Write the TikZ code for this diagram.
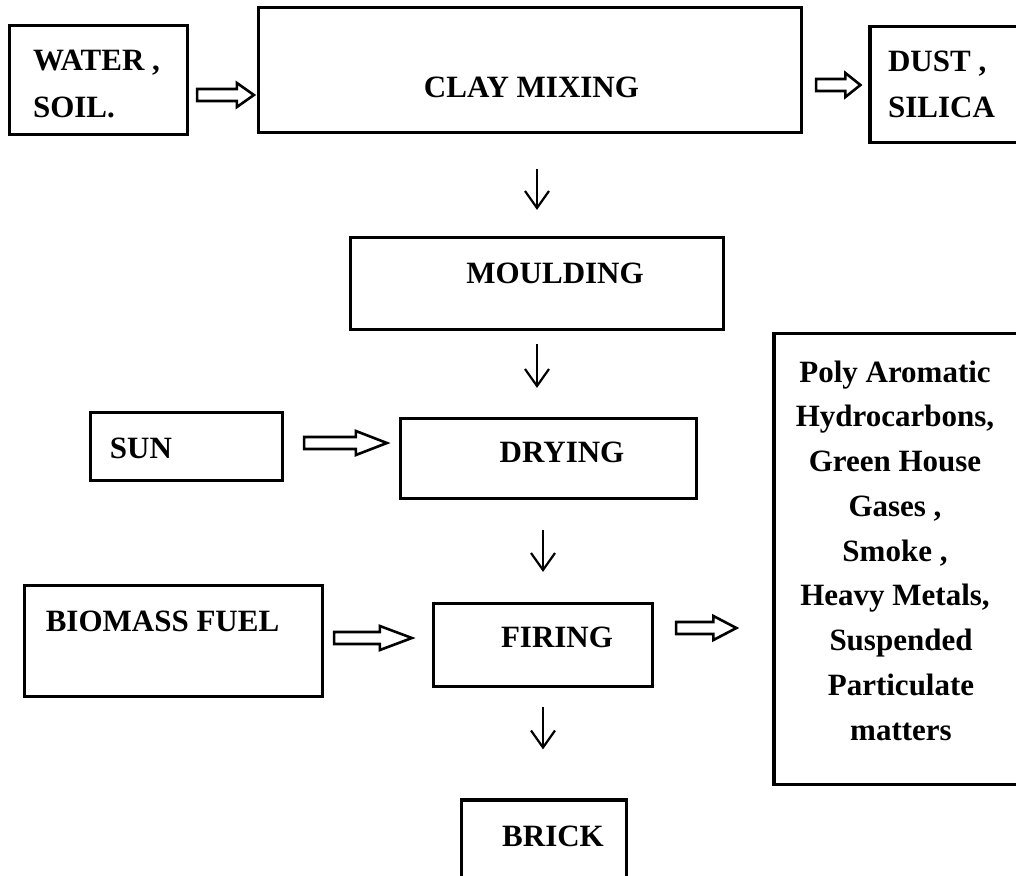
\documentclass[tikz,border=0pt]{standalone}
\usepackage{fontspec}
\setmainfont{Liberation Serif}
\usetikzlibrary{arrows.meta,calc}

\begin{document}
\begin{tikzpicture}[
		x=1pt, y=-1pt,
		every node/.style={inner sep=0pt, font=\bfseries\fontsize{31}{45}\selectfont},
		box/.style={draw, line width=3.2pt},
		down/.style={line width=2.2pt, -{Straight Barb[length=17pt,width=24pt]}},
		hollow/.style={line width=2.6pt, to path={let \p1=(\tikztostart), \p2=(\tikztotarget) in
			(\x1,\y1+6pt) -- (\x2-#1pt,\y1+6pt) -- (\x2-#1pt,\y1+12pt) -- (\x2,\y1)
			-- (\x2-#1pt,\y1-12pt) -- (\x2-#1pt,\y1-6pt) -- (\x1,\y1-6pt) -- cycle}},
		hollow/.default=20
	]
  \useasboundingbox (0,0) rectangle (1016,875);
  \node (water) [box, minimum width=178, minimum height=109, label={[align=left, shift={(-2,3.5)}]center:WATER ,\\[2pt]SOIL.}] at (98.5,80) {};
  \node (clay) [box, minimum width=543, minimum height=125, label={[shift={(1.5,17.5)}]center:CLAY MIXING}] at (530,70) {};
  \node (dust) [box, minimum width=162, minimum height=116, label={[align=left, shift={(-9.5,-0.5)}]center:DUST ,\\[1pt]SILICA}] at (951,84.5) {};
  \node (mould) [box, minimum width=373, minimum height=92, label={[shift={(18,-10.5)}]center:MOULDING}] at (537,283.5) {};
  \node (sun) [box, minimum width=192, minimum height=68, label={[shift={(-45.5,1.5)}]center:SUN}] at (186.5,446.5) {};
  \node (dry) [box, minimum width=296, minimum height=80, label={[shift={(13.5,-6)}]center:DRYING}] at (548.5,458.5) {};
  \node (bio) [box, minimum width=298, minimum height=111, label={[shift={(-11,-20)}]center:BIOMASS FUEL}] at (173.5,641) {};
  \node (fire) [box, minimum width=219, minimum height=83, label={[shift={(14,-7.5)}]center:FIRING}] at (543,645) {};
  \node (brick) [box, minimum width=165, minimum height=90, label={[shift={(9,-9)}]center:BRICK}] at (544,845) {};
  \node (emis) [box, minimum width=258, minimum height=451, label={[align=center, font=\bfseries\fontsize{31}{44.75}\selectfont, shift={(-8,-8.5)}]center:Poly Aromatic\\Hydrocarbons,\\Green House\\Gases ,\\Smoke ,\\Heavy Metals,\\\hspace*{12pt}Suspended\\\hspace*{12pt}Particulate\\\hspace*{12pt}matters}] at (903,559) {};
  \draw[hollow=17] ([xshift=8pt,yshift=-15pt]water.east) to ([xshift=-3pt]clay.west);
  \draw[hollow=15] ([xshift=13pt,yshift=-15pt]clay.east) to ([xshift=-8pt]dust.west);
  \draw[hollow=31] ([xshift=20pt,yshift=3.5pt]sun.east) to ([xshift=-12pt]dry.west);
  \draw[hollow=32] ([xshift=10pt,yshift=3pt]bio.east) to ([xshift=-20pt]fire.west);
  \draw[hollow=23] ([xshift=22pt,yshift=17pt]fire.east) to ([xshift=-36pt]emis.west);
  \draw[down, shorten <=35pt, shorten >=26pt] (mould.north |- clay.south) -- (mould.north);
  \draw[down, shorten <=13pt, shorten >=29pt] (mould.south) -- (mould.south |- dry.north);
  \draw[down, shorten <=30pt, shorten >=30pt] (fire.north |- dry.south) -- (fire.north);
  \draw[down, shorten <=19pt, shorten >=49pt] (fire.south) -- (fire.south |- brick.north);
\end{tikzpicture}
\end{document}
